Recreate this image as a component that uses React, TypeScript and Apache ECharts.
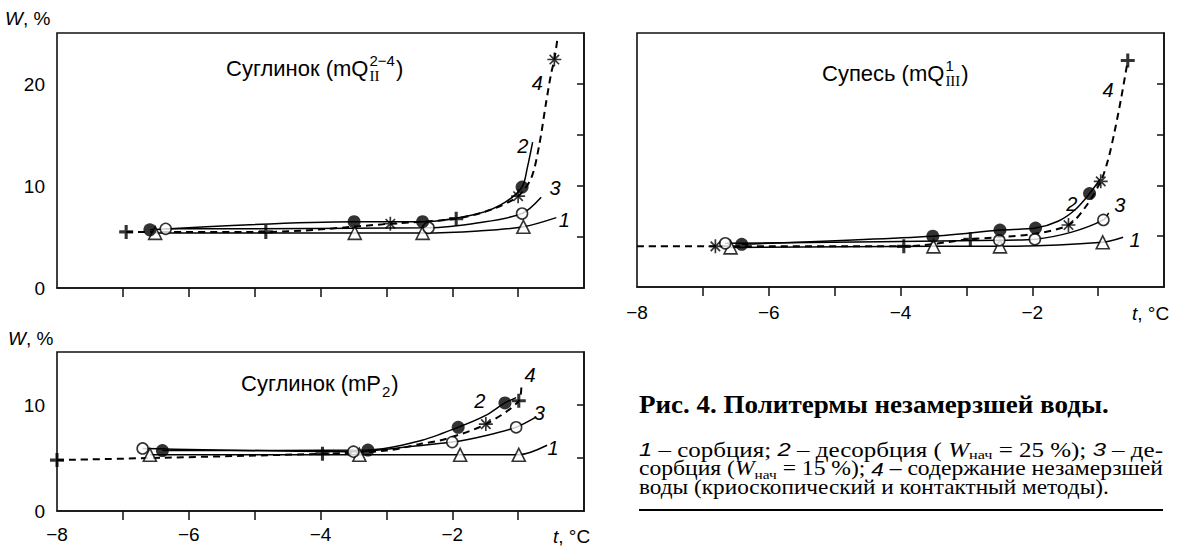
import React, { useEffect, useRef } from "react";
import * as echarts from "echarts";

type P = [number, number];

// ---------------- Axis ticks / labels ----------------
const xTickValues = [-7, -6, -5, -4, -3, -2, -1];
const xLabelValues = [-8, -6, -4, -2];
const yTickValuesTop = [5, 10, 15, 20];
const yLabelValuesTop = [0, 10, 20];
const yTickValuesBottom = [5, 10];
const yLabelValuesBottom = [0, 10];

// ---------------- Panel A: Суглинок (mQ II 2–4) ----------------
// markers + extra points along each drawn curve
const aSorption: P[] = [[-6.51, 5.4], [-3.48, 5.4], [-2.45, 5.4], [-0.92, 6.0]];
const aSorptionPath: P[] = [[-1.6, 5.6], [-0.42, 6.9]];
const aDesorb25: P[] = [[-6.59, 5.7], [-3.49, 6.5], [-2.45, 6.5], [-0.94, 9.9]];
const aDesorb25Path: P[] = [[-1.6, 7.3], [-1.2, 8.4], [-0.86, 11.8], [-0.78, 14.3]];
const aDesorb15: P[] = [[-6.35, 5.8], [-2.36, 5.9], [-0.94, 7.3]];
const aDesorb15Path: P[] = [[-1.6, 6.4], [-0.65, 8.9]];
const aUnfrozenPlus: P[] = [[-6.95, 5.5], [-4.83, 5.5], [-1.94, 6.8]];
const aUnfrozenStar: P[] = [[-2.94, 6.3], [-1.0, 9.0], [-0.45, 22.4]];
const aUnfrozenPath: P[] = [[-1.4, 7.7], [-0.8, 10.8], [-0.68, 14.0], [-0.58, 18.0], [-0.5, 21.0], [-0.4, 24.6]];
const aCurveLabels: [string, number, number][] = [["1", -0.3, 6.7], ["2", -0.93, 13.9], ["3", -0.44, 9.8], ["4", -0.71, 20.1]];

// ---------------- Panel B: Супесь (mQ III 1) ----------------
const bSorption: P[] = [[-6.58, 3.9], [-3.5, 4.0], [-2.49, 4.0], [-0.93, 4.4]];
const bSorptionPath: P[] = [[-0.62, 4.9]];
const bDesorb25: P[] = [[-6.41, 4.2], [-3.51, 5.0], [-2.49, 5.6], [-1.95, 5.8], [-1.13, 9.2]];
const bDesorb25Path: P[] = [[-1.6, 6.5], [-1.35, 7.6], [-0.97, 10.6]];
const bDesorb15: P[] = [[-6.66, 4.3], [-2.5, 4.6], [-1.96, 4.7], [-0.92, 6.6]];
const bDesorb15Path: P[] = [[-1.4, 5.4], [-0.84, 7.3]];
const bUnfrozenPlus: P[] = [[-3.95, 4.0], [-2.94, 4.7], [-0.55, 22.3]];
const bUnfrozenStar: P[] = [[-6.81, 4.0], [-1.45, 6.1], [-0.96, 10.4]];
const bUnfrozenPath: P[] = [[-8.0, 4.0], [-2.0, 5.2], [-1.2, 7.8], [-0.85, 12.5], [-0.75, 15.3], [-0.65, 18.6]];
const bCurveLabels: [string, number, number][] = [["1", -0.44, 4.6], ["2", -1.4, 8.2], ["3", -0.67, 8.1], ["4", -0.85, 19.4]];

// ---------------- Panel C: Суглинок (mP2) ----------------
const cSorption: P[] = [[-6.59, 5.3], [-3.41, 5.3], [-1.88, 5.3], [-0.99, 5.3]];
const cSorptionPath: P[] = [[-0.56, 6.2]];
const cDesorb25: P[] = [[-6.4, 5.7], [-3.28, 5.75], [-1.91, 7.9], [-1.2, 10.2]];
const cDesorb25Path: P[] = [[-2.5, 6.6], [-1.5, 9.0], [-1.03, 10.7]];
const cDesorb15: P[] = [[-6.7, 5.9], [-3.5, 5.6], [-2.0, 6.5], [-1.03, 7.9]];
const cDesorb15Path: P[] = [[-2.6, 6.1], [-1.5, 7.1], [-0.73, 8.85]];
const cUnfrozenPlus: P[] = [[-8.0, 4.8], [-3.97, 5.4], [-0.99, 10.4]];
const cUnfrozenStar: P[] = [[-1.49, 8.2]];
const cUnfrozenPath: P[] = [[-3.0, 5.7], [-2.5, 6.3], [-2.1, 6.8], [-0.95, 11.9]];
const cCurveLabels: [string, number, number][] = [["1", -0.47, 5.9], ["2", -1.58, 10.4], ["3", -0.68, 9.2], ["4", -0.82, 12.8]];

// ---------------- Caption ----------------
const captionTitle = "Рис. 4. Политермы незамерзшей воды.";
const captionLines: [string, string][][] = [
  [["1", "i"], [" – сорбция; ", "r"], ["2", "i"], [" – десорбция ( ", "r"], ["W", "w"], ["нач", "s"], [" = 25 %); ", "r"], ["3", "i"], [" – де-", "r"]],
  [["сорбция (", "r"], ["W", "w"], ["нач", "s"], [" = 15 %); ", "r"], ["4", "i"], [" – содержание незамерзшей", "r"]],
  [["воды (криоскопический и контактный методы).", "r"]],
];

const SANS = '"Liberation Sans", Arial, sans-serif';
const SERIF = '"Liberation Serif", serif';

const PLUS = "path://M3.9,0H6.1V3.9H10V6.1H6.1V10H3.9V6.1H0V3.9H3.9Z";
const STAR =
  "path://M8.8,0H11.2V20H8.8Z M0,8.8H20V11.2H0Z M2.4,4.1L4.1,2.4L17.6,15.9L15.9,17.6Z M15.9,2.4L17.6,4.1L4.1,17.6L2.4,15.9Z";

let mctx: CanvasRenderingContext2D | null = null;
function measure(text: string, font: string): number {
  if (!mctx) mctx = document.createElement("canvas").getContext("2d");
  if (!mctx) return text.length * 10;
  mctx.font = font;
  return mctx.measureText(text).width;
}

const sortP = (a: P[]) => [...a].sort((p, q) => p[0] - q[0]);
const fmt = (v: number) => (v < 0 ? "\u2212" + Math.abs(v) : String(v));

function panelSeries(
  i: number,
  tri: P[], triPath: P[], dot: P[], dotPath: P[], ring: P[], ringPath: P[],
  plus: P[], star: P[], dashPath: P[], labels: [string, number, number][]
): any[] {
  const base = { xAxisIndex: i, yAxisIndex: i, silent: true };
  const line = (data: P[], dashed: boolean) => ({
    ...base,
    type: "line",
    data: sortP(data),
    smooth: 0.3,
    showSymbol: false,
    symbol: "none",
    lineStyle: { color: "#000", width: dashed ? 2 : 1.5, type: dashed ? [7, 5] : "solid" },
    z: 2,
  });
  return [
    line([...tri, ...triPath], false),
    line([...dot, ...dotPath], false),
    line([...ring, ...ringPath], false),
    line([...plus, ...star, ...dashPath], true),
    {
      ...base, type: "scatter", data: tri, symbol: "triangle", symbolSize: [13, 13],
      itemStyle: { color: "#fff", borderColor: "#000", borderWidth: 1.6 }, z: 4,
    },
    {
      ...base, type: "scatter", data: ring, symbol: "circle", symbolSize: 11,
      itemStyle: { color: "#fff", borderColor: "#000", borderWidth: 1.6 }, z: 5,
    },
    { ...base, type: "scatter", data: dot, symbol: "circle", symbolSize: 13, itemStyle: { color: "#000" }, z: 6 },
    { ...base, type: "scatter", data: plus, symbol: PLUS, symbolSize: 14, itemStyle: { color: "#000" }, z: 6 },
    { ...base, type: "scatter", data: star, symbol: STAR, symbolSize: 14, itemStyle: { color: "#000" }, z: 6 },
    {
      ...base,
      type: "custom",
      data: labels.map(([n, x, y]) => ({ name: n, value: [x, y] })),
      encode: { x: 0, y: 1 },
      renderItem: (params: any, api: any) => {
        const pt = api.coord([api.value(0), api.value(1)]);
        return {
          type: "text",
          x: pt[0],
          y: pt[1],
          style: {
            text: labels[params.dataIndex][0],
            fill: "#000",
            fontSize: 20,
            fontStyle: "italic",
            fontFamily: SANS,
            align: "center",
            verticalAlign: "middle",
          },
        };
      },
      z: 7,
    },
  ];
}

function txt(x: number, y: number, text: string, style: any, extra: any = {}) {
  return {
    type: "text", x, y, silent: true, ...extra,
    style: { text, fill: "#000", align: "left", verticalAlign: "middle", textAlign: "left", textVerticalAlign: "middle", ...style },
  };
}

function titleEls(x: number, y: number, base: string, sup: string, sub: string, subFont: string) {
  const fs = 22, sfs = 15;
  const wBase = measure(base, `${fs}px ${SANS}`);
  const wSup = sup ? measure(sup, `${sfs}px ${SANS}`) : 0;
  const wSub = measure(sub, `${sfs}px ${subFont}`);
  const els: any[] = [txt(x, y, base, { fontSize: fs, fontFamily: SANS })];
  if (sup) els.push(txt(x + wBase + 1, y - 8, sup, { fontSize: sfs, fontFamily: SANS }));
  els.push(txt(x + wBase + 1, y + 8, sub, { fontSize: sfs, fontFamily: subFont }));
  els.push(txt(x + wBase + 2 + Math.max(wSup, wSub), y, ")", { fontSize: fs, fontFamily: SANS }));
  return els;
}

function captionEls(): any[] {
  const x0 = 639;
  const fonts: Record<string, any> = {
    r: { fontSize: 20, fontFamily: SERIF },
    i: { fontSize: 19, fontFamily: SANS, fontStyle: "italic" },
    w: { fontSize: 20, fontFamily: SERIF, fontStyle: "italic" },
    s: { fontSize: 13, fontFamily: SERIF },
  };
  const css = (f: any) => `${f.fontStyle || "normal"} ${f.fontWeight || "normal"} ${f.fontSize}px ${f.fontFamily}`;
  const els: any[] = [];
  const hf = { fontSize: 25, fontFamily: SERIF, fontWeight: "bold" };
  const hw = measure(captionTitle, css(hf));
  els.push(txt(x0, 405, captionTitle, hf, { scaleX: 470 / hw }));
  const targets = [524, 524, 470];
  const ys = [450, 469, 488];
  captionLines.forEach((segs, li) => {
    const widths = segs.map(([t, k]) => measure(t, css(fonts[k])));
    const total = widths.reduce((a, b) => a + b, 0);
    const s = targets[li] / total;
    let cum = 0;
    segs.forEach(([t, k], si) => {
      const dy = k === "s" ? 5 : 0;
      els.push(txt(x0 + cum * s, ys[li] + dy, t, fonts[k], { scaleX: s }));
      cum += widths[si];
    });
  });
  els.push({
    type: "line", silent: true,
    shape: { x1: x0, y1: 510, x2: 1163, y2: 510 },
    style: { stroke: "#000", lineWidth: 2 },
  });
  return els;
}

function buildOption(): any {
  const grids = [
    { left: 57, top: 33, width: 527, height: 255 },
    { left: 637, top: 33, width: 527, height: 254 },
    { left: 57, top: 352, width: 527, height: 159 },
  ].map((g) => ({ ...g, show: true, borderColor: "#111", borderWidth: 1.6, backgroundColor: "transparent" }));

  const labelStyle = { color: "#000", fontSize: 19, fontFamily: SANS };
  const xAxis = [0, 1, 2].map((i) => ({
    type: "value", gridIndex: i, min: -8, max: 0,
    axisLine: { show: true, lineStyle: { color: "#111", width: 1.6 } },
    axisTick: { show: true, length: 9, customValues: xTickValues, lineStyle: { color: "#111", width: 1.5 } },
    axisLabel: i === 0 ? { show: false } : { ...labelStyle, customValues: xLabelValues, formatter: fmt, margin: i === 1 ? 16 : 14 },
    splitLine: { show: false },
  }));
  const yAxis = [0, 1, 2].map((i) => ({
    type: "value", gridIndex: i, min: 0, max: i === 2 ? 15 : 25,
    axisLine: { show: true, lineStyle: { color: "#111", width: 1.6 } },
    axisTick: { show: true, length: 7, customValues: i === 2 ? yTickValuesBottom : yTickValuesTop, lineStyle: { color: "#111", width: 1.5 } },
    axisLabel: i === 1 ? { show: false } : { ...labelStyle, customValues: i === 2 ? yLabelValuesBottom : yLabelValuesTop, margin: 12 },
    splitLine: { show: false },
  }));

  const series = [
    ...panelSeries(0, aSorption, aSorptionPath, aDesorb25, aDesorb25Path, aDesorb15, aDesorb15Path, aUnfrozenPlus, aUnfrozenStar, aUnfrozenPath, aCurveLabels),
    ...panelSeries(1, bSorption, bSorptionPath, bDesorb25, bDesorb25Path, bDesorb15, bDesorb15Path, bUnfrozenPlus, bUnfrozenStar, bUnfrozenPath, bCurveLabels),
    ...panelSeries(2, cSorption, cSorptionPath, cDesorb25, cDesorb25Path, cDesorb15, cDesorb15Path, cUnfrozenPlus, cUnfrozenStar, cUnfrozenPath, cCurveLabels),
  ];

  const axisName = (x: number, y: number, a: string, b: string) =>
    txt(x, y, `{i|${a}}${b}`, { fontSize: 19, fontFamily: SANS, rich: { i: { fontStyle: "italic", fontSize: 19, fontFamily: SANS } } });

  const graphic = [
    axisName(5, 18, "W", ", %"),
    axisName(8, 338, "W", ", %"),
    axisName(1132, 313, "t", ", °C"),
    axisName(553, 536, "t", ", °C"),
    ...titleEls(226, 68, "Суглинок (mQ", "2\u22124", "II", SERIF),
    ...titleEls(822, 73, "Супесь (mQ", "1", "III", SERIF),
    ...titleEls(241, 383, "Суглинок (mP", "", "2", SANS),
    ...captionEls(),
  ];

  return { animation: false, backgroundColor: "#fff", grid: grids, xAxis, yAxis, series, graphic };
}

export default function App() {
  const ref = useRef<HTMLDivElement>(null);
  useEffect(() => {
    if (!ref.current) return;
    const chart = echarts.init(ref.current, null, { renderer: "svg" });
    chart.setOption(buildOption());
    return () => chart.dispose();
  }, []);
  return <div ref={ref} style={{ position: "fixed", left: 0, top: 0, width: 1178, height: 546, background: "#fff" }} />;
}
